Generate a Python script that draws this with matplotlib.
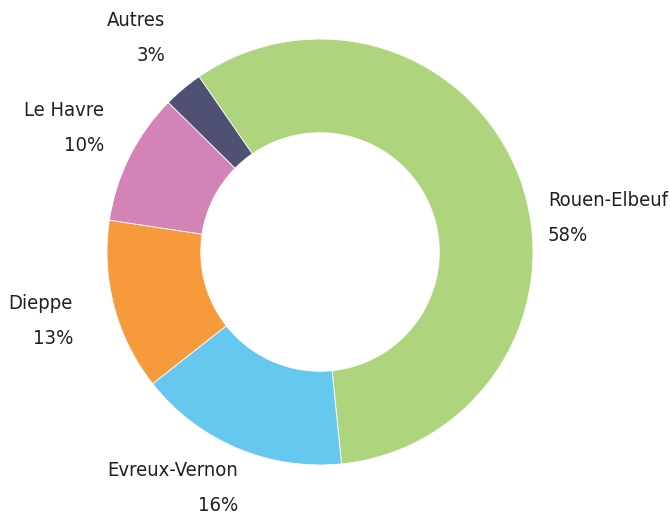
import matplotlib
matplotlib.use("Agg")
import matplotlib.pyplot as plt

labels = ["Rouen-Elbeuf", "Evreux-Vernon", "Dieppe", "Le Havre", "Autres"]
values = [58, 16, 13, 10, 3]
colors = ["#aed47e", "#66c7ef", "#f79a3b", "#d383b5", "#4f5173"]

# label anchor positions in pixels (x, y of name line), and alignment
label_pos = [(548, 200, "left"), (238, 470, "right"), (73, 303, "right"),
             (104, 110, "right"), (165, 20, "right")]

W, H = 670, 518
fig = plt.figure(figsize=(W / 100, H / 100), dpi=100)
cx, cy, r = 320, 252, 213
ax = fig.add_axes([(cx - r) / W, (H - cy - r) / H, 2 * r / W, 2 * r / H])
ax.pie(values, colors=colors, startangle=124.6, counterclock=False, radius=1,
       wedgeprops=dict(width=0.44, edgecolor="white", linewidth=0.6))
ax.set_xlim(-1, 1)
ax.set_ylim(-1, 1)
ax.set_aspect("equal")
ax.axis("off")

txt = dict(color="#231f20", fontsize=14.5, family="DejaVu Sans", fontstretch="condensed",
           va="center", linespacing=2.1)
for name, v, (x, y, ha) in zip(labels, values, label_pos):
    fig.text(x / W, 1 - (y + 18) / H, f"{name}\n{v}%", ha=ha, multialignment=ha, **txt)

fig.savefig("out.png", dpi=100, facecolor="white")
